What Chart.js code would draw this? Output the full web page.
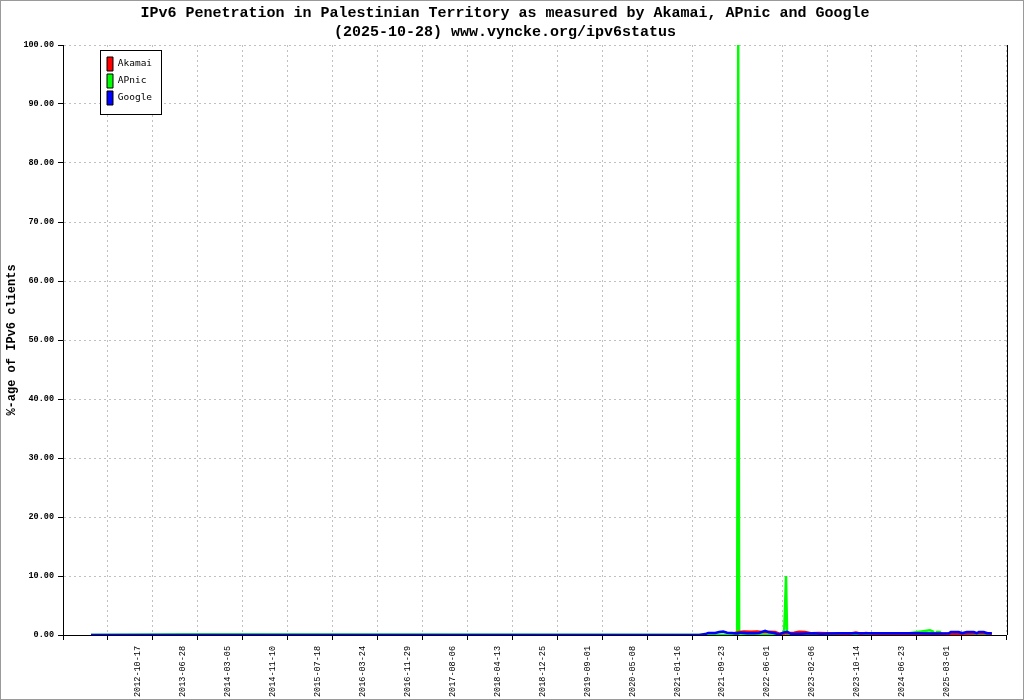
<!DOCTYPE html>
<html>
<head>
<meta charset="utf-8">
<script src="https://cdn.jsdelivr.net/npm/chart.js@4/dist/chart.umd.min.js"></script>
<style>
  body { margin: 0; background: #fff; }
  #wrap { width: 1024px; height: 700px; box-sizing: border-box; border: 1px solid #9a9a9a; }
  canvas { display: block; }
</style>
</head>
<body>
<div id="wrap"><canvas id="ipv6-chart" width="1022" height="698"></canvas></div>
<script>
// Axe X : jours depuis le bord gauche du graphique, une graduation tous les 252 jours
const tickStep = 252;
const xMax = 5292;
const tickDates = ['2012-10-17', '2013-06-28', '2014-03-05', '2014-11-10', '2015-07-18',
    '2016-03-24', '2016-11-29', '2017-08-06', '2018-04-13', '2018-12-25', '2019-09-01',
    '2020-05-08', '2021-01-16', '2021-09-23', '2022-06-01', '2023-02-06', '2023-10-14',
    '2024-06-23', '2025-03-01'];

// Akamai (rouge)
const akamaiDays = [3763, 3791, 3819, 3858, 3892, 3920, 3959, 3993, 4021, 4054, 4099, 4127,
    4160, 4194, 4239, 4284, 4329, 4407, 4446, 4474, 4502, 4547, 4687, 4855, 5023, 5180, 5208];
const akamaiValues = [0.3, 0.5, 0.6, 0.55, 0.6, 0.5, 0.55, 0.5, 0.2, 0.3, 0.4, 0.55,
    0.5, 0.3, 0.35, 0.3, 0.25, 0.2, 0.4, 0.2, 0.35, 0.2, 0.2, 0.2, 0.2, 0.35, 0.2];

// APnic (vert)
const apnicDays = [157, 672, 829, 3567, 3612, 3780, 3786, 3791, 3903, 4043, 4049, 4054, 4060,
    4127, 4267, 4295, 4687, 4861, 4878, 4889, 4900, 4917, 4928, 5208];
const apnicValues = [0.0, 0.1, 0.1, 0.0, 0.05, 0.1, 100, 0.1, 0.1, 0.1, 5, 10, 0.2,
    0.05, 0.2, 0.05, 0.05, 0.8, 0.6, 0.1, 0.5, 0.5, 0.1, 0.05];

// Google (bleu)
const googleDays = [157, 3567, 3601, 3618, 3657, 3679, 3702, 3724, 3752, 3780, 3802, 3836,
    3875, 3903, 3937, 3959, 3987, 4015, 4038, 4060, 4082, 4127, 4172, 4211, 4250, 4295, 4351,
    4463, 4575, 4687, 4799, 4883, 4967, 4978, 5023, 5040, 5068, 5107, 5124, 5135, 5163, 5180, 5208];
const googleValues = [0.02, 0.02, 0.15, 0.35, 0.35, 0.5, 0.6, 0.4, 0.35, 0.25, 0.4, 0.3,
    0.3, 0.35, 0.7, 0.45, 0.35, 0.1, 0.4, 0.55, 0.2, 0.2, 0.25, 0.3, 0.2, 0.25, 0.3,
    0.3, 0.3, 0.3, 0.3, 0.25, 0.3, 0.5, 0.5, 0.3, 0.5, 0.5, 0.3, 0.5, 0.5, 0.3, 0.3];

const points = (days, values) => days.map((d, i) => ({ x: d, y: values[i] }));
const mono = "'Liberation Mono', 'DejaVu Sans Mono', monospace";

// Légende encadrée, placée dans la zone du graphique
const legendBox = {
    id: 'legendBox',
    afterLayout(chart) {
        const lg = chart.legend;
        const w = lg.width, h = lg.height;
        lg.left = 103; lg.top = 53;
        lg.right = lg.left + w; lg.bottom = lg.top + h;
    },
    afterDatasetsDraw(chart) {
        const ctx = chart.ctx;
        const a = chart.chartArea;
        ctx.save();
        ctx.setLineDash([]);
        // bord droit du graphique
        ctx.strokeStyle = '#000';
        ctx.lineWidth = 1;
        ctx.beginPath();
        ctx.moveTo(Math.round(a.right) + 0.5, a.top);
        ctx.lineTo(Math.round(a.right) + 0.5, a.bottom);
        ctx.stroke();
        // cadre de la légende
        ctx.fillStyle = '#fff';
        ctx.fillRect(99, 49, 61, 64);
        ctx.strokeRect(99.5, 49.5, 61, 64);
        ctx.restore();
        chart.legend.draw();
    }
};

const gridOpts = { color: '#c0c0c0', tickColor: '#000', tickLength: 5, tickBorderDash: [] };
const borderOpts = { display: true, color: '#000', width: 1, dash: [2, 3] };

const ctx = document.getElementById('ipv6-chart').getContext('2d');
const ipv6Chart = new Chart(ctx, {
    type: 'line',
    data: {
        datasets: [
            { label: 'Akamai', data: points(akamaiDays, akamaiValues), borderColor: '#ff0000', order: 1 },
            { label: 'APnic', data: points(apnicDays, apnicValues), borderColor: '#00ff00', order: 2 },
            { label: 'Google', data: points(googleDays, googleValues), borderColor: '#0000ff', order: 0 }
        ]
    },
    options: {
        responsive: false,
        animation: false,
        devicePixelRatio: 1,
        layout: { padding: { left: 0, right: 14, top: 0, bottom: 0 } },
        elements: {
            line: { borderWidth: 2.5, tension: 0, fill: false, borderCapStyle: 'butt' },
            point: { radius: 0, hoverRadius: 0 }
        },
        plugins: {
            title: {
                display: true,
                text: ['IPv6 Penetration in Palestinian Territory as measured by Akamai, APnic and Google',
                       '(2025-10-28) www.vyncke.org/ipv6status'],
                color: '#000',
                font: { family: mono, size: 15, weight: 'bold', lineHeight: 1.25 },
                padding: { top: 3, bottom: 3.5 }
            },
            legend: {
                position: 'chartArea',
                align: 'start',
                labels: {
                    boxWidth: 6,
                    boxHeight: 14,
                    padding: 3,
                    color: '#000',
                    font: { family: "'DejaVu Sans Mono', monospace", size: 9.5 },
                    generateLabels: chart => chart.data.datasets.map((ds, i) => ({
                        text: ds.label,
                        fillStyle: ds.borderColor,
                        strokeStyle: '#000',
                        lineWidth: 1,
                        datasetIndex: i
                    }))
                }
            },
            tooltip: { enabled: false }
        },
        scales: {
            x: {
                type: 'linear',
                min: 0,
                max: xMax,
                afterFit: scale => { scale.height = 64; },
                afterBuildTicks: scale => {
                    scale.ticks = [];
                    for (let v = 0; v <= xMax; v += tickStep) scale.ticks.push({ value: v });
                },
                ticks: {
                    autoSkip: false,
                    minRotation: 90,
                    maxRotation: 90,
                    labelOffset: 30,
                    padding: 6,
                    color: '#000',
                    font: { family: mono, size: 8.5 },
                    callback: value => tickDates[Math.round(value / tickStep) - 1] || ''
                },
                grid: gridOpts,
                border: borderOpts
            },
            y: {
                min: 0,
                max: 100,
                afterFit: scale => { scale.width = 62; },
                ticks: {
                    stepSize: 10,
                    padding: 4,
                    color: '#000',
                    font: { family: mono, size: 8.5, weight: 'bold' },
                    callback: value => value.toFixed(2)
                },
                grid: gridOpts,
                border: borderOpts,
                title: {
                    display: true,
                    text: '%-age of IPv6 clients',
                    color: '#000',
                    font: { family: mono, size: 12, weight: 'bold' },
                    padding: { top: 4, bottom: 0 }
                }
            }
        }
    },
    plugins: [legendBox]
});
</script>
</body>
</html>
